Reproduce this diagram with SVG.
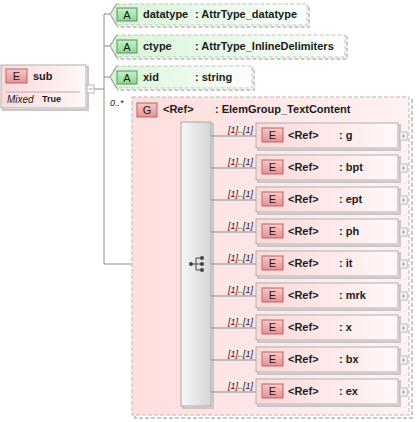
<svg xmlns="http://www.w3.org/2000/svg" width="419" height="422" viewBox="0 0 419 422">
<defs>
<linearGradient id="gPink" x1="0" y1="0" x2="1" y2="0"><stop offset="0" stop-color="#fdd9d9"/><stop offset="1" stop-color="#fff8f8"/></linearGradient>
<linearGradient id="gGroup" x1="0" y1="0" x2="1" y2="0"><stop offset="0" stop-color="#ffdede"/><stop offset="1" stop-color="#fff2f2"/></linearGradient>
<linearGradient id="gGreen" x1="0" y1="0" x2="1" y2="0"><stop offset="0" stop-color="#d8f5d8"/><stop offset="1" stop-color="#fbfffb"/></linearGradient>
<linearGradient id="gBadgeE" x1="0" y1="0" x2="0" y2="1"><stop offset="0" stop-color="#fbc8c8"/><stop offset="1" stop-color="#ec8f8f"/></linearGradient>
<linearGradient id="gBadgeA" x1="0" y1="0" x2="0" y2="1"><stop offset="0" stop-color="#c8f2c8"/><stop offset="1" stop-color="#8ed68e"/></linearGradient>
<linearGradient id="gSeq" x1="0" y1="0" x2="1" y2="0"><stop offset="0" stop-color="#f6f6f6"/><stop offset="1" stop-color="#d6d6d6"/></linearGradient>
<style>
text{font-family:"Liberation Sans",Arial,sans-serif;fill:#1a1a1a}
.t{font-size:11px;font-weight:bold}
.card{font-size:9px;font-style:italic}
.badge{font-size:11px;text-anchor:middle}
.eb{fill:url(#gBadgeE);stroke:#a86a6a;stroke-width:1}
.ab{fill:url(#gBadgeA);stroke:#5f8f5f;stroke-width:1}
.ebox{fill:url(#gPink);stroke:#b0b0b0;stroke-width:1}
.shadow{fill:none;stroke:#c8c8c8;stroke-width:2}
.dash{stroke-dasharray:4,2}
.ln{stroke:#8c8c8c;stroke-width:1;fill:none}
.plus{fill:#fff;stroke:#b8b8b8;stroke-width:1}
.pl{stroke:#a0a0a0;stroke-width:1}
</style>
</defs>

<g id="connectors">
<line class="ln" x1="94" y1="89" x2="104" y2="89"/>
<line class="ln" x1="104" y1="14" x2="104" y2="264"/>
<line class="ln" x1="104" y1="14" x2="110" y2="14"/>
<line class="ln" x1="104" y1="46" x2="110" y2="46"/>
<line class="ln" x1="104" y1="77" x2="110" y2="77"/>
<line class="ln" x1="104" y1="264" x2="181" y2="264"/>
<text class="card" x="176" y="261" text-anchor="end">[1]..[1]</text>
<text class="card" x="110" y="106">0..*</text>
</g>

<g id="sub">
<rect x="3" y="67" width="85" height="43" class="shadow"/>
<rect x="1" y="65" width="85" height="43" fill="url(#gPink)" stroke="#b0b0b0"/>
<rect x="6" y="69" width="21" height="14" class="eb"/>
<text class="badge" x="16.5" y="80">E</text>
<text class="t" x="33" y="80">sub</text>
<line x1="6" y1="92" x2="80" y2="92" stroke="#b0b0b0"/>
<text x="7" y="103" font-size="10" font-style="italic">Mixed</text>
<text x="42" y="102" font-size="9" font-weight="bold">True</text>
<rect x="87" y="85" width="7" height="8" class="plus"/>
<line x1="88.5" y1="89" x2="92.5" y2="89" class="pl"/>
</g>

<g id="attr_datatype">
<polygon points="112,16 118,6 309,6 309,27 118,27" class="shadow dash"/>
<polygon points="110,14 116,4 307,4 307,25 116,25" fill="url(#gGreen)" stroke="#c0c0c0" class="dash"/>
<polyline points="117,4 110,14 117,25" fill="none" stroke="#7fa57f"/>
<rect x="117" y="8" width="20" height="13" class="ab"/>
<text class="badge" x="127" y="19">A</text>
<text class="t" x="143" y="18">datatype</text>
<text class="t" x="195" y="18">: AttrType_datatype</text>
</g>

<g id="attr_ctype">
<polygon points="112,48 118,37 347,37 347,59 118,59" class="shadow dash"/>
<polygon points="110,46 116,35 345,35 345,57 116,57" fill="url(#gGreen)" stroke="#c0c0c0" class="dash"/>
<polyline points="117,35 110,46 117,57" fill="none" stroke="#7fa57f"/>
<rect x="117" y="40" width="20" height="13" class="ab"/>
<text class="badge" x="127" y="51">A</text>
<text class="t" x="143" y="50">ctype</text>
<text class="t" x="195" y="50">: AttrType_InlineDelimiters</text>
</g>

<g id="attr_xid">
<polygon points="112,79 118,68 254,68 254,90 118,90" class="shadow dash"/>
<polygon points="110,77 116,66 252,66 252,88 116,88" fill="url(#gGreen)" stroke="#c0c0c0" class="dash"/>
<polyline points="117,66 110,77 117,88" fill="none" stroke="#7fa57f"/>
<rect x="117" y="71" width="20" height="13" class="ab"/>
<text class="badge" x="127" y="82">A</text>
<text class="t" x="143" y="81">xid</text>
<text class="t" x="195" y="81">: string</text>
</g>

<g id="group_TextContent">
<rect x="135" y="100" width="277" height="318" class="shadow dash"/>
<rect x="132" y="97" width="277" height="318" fill="url(#gGroup)" stroke="#b8b8b8" class="dash"/>
<rect x="137" y="103" width="20" height="14" class="eb"/>
<text class="badge" x="147" y="114">G</text>
<text class="t" x="163" y="113">&lt;Ref&gt;</text>
<text class="t" x="215" y="113">: ElemGroup_TextContent</text>
</g>

<g id="sequence">
<rect x="183" y="124" width="30" height="284" class="shadow"/>
<rect x="181" y="122" width="30" height="284" fill="url(#gSeq)" stroke="#a8a8a8"/>
<g fill="#444" stroke="#444" stroke-width="1">
<line x1="191" y1="264" x2="196" y2="264"/>
<line x1="196" y1="258" x2="196" y2="270"/>
<line x1="196" y1="258" x2="202" y2="258"/>
<line x1="196" y1="270" x2="202" y2="270"/>
<line x1="196" y1="264" x2="202" y2="264"/>
<circle cx="191" cy="264" r="2" stroke="none"/>
<circle cx="202" cy="258" r="2" stroke="none"/>
<circle cx="202" cy="264" r="2" stroke="none"/>
<circle cx="202" cy="270" r="2" stroke="none"/>
</g>
</g>

<g id="seq_connectors">
<line class="ln" x1="211" y1="136" x2="256" y2="136"/>
<line class="ln" x1="211" y1="168" x2="256" y2="168"/>
<line class="ln" x1="211" y1="200" x2="256" y2="200"/>
<line class="ln" x1="211" y1="232" x2="256" y2="232"/>
<line class="ln" x1="211" y1="264" x2="256" y2="264"/>
<line class="ln" x1="211" y1="296" x2="256" y2="296"/>
<line class="ln" x1="211" y1="328" x2="256" y2="328"/>
<line class="ln" x1="211" y1="360" x2="256" y2="360"/>
<line class="ln" x1="211" y1="392" x2="256" y2="392"/>
<text class="card" x="253" y="133" text-anchor="end">[1]..[1]</text>
<text class="card" x="253" y="165" text-anchor="end">[1]..[1]</text>
<text class="card" x="253" y="197" text-anchor="end">[1]..[1]</text>
<text class="card" x="253" y="229" text-anchor="end">[1]..[1]</text>
<text class="card" x="253" y="261" text-anchor="end">[1]..[1]</text>
<text class="card" x="253" y="293" text-anchor="end">[1]..[1]</text>
<text class="card" x="253" y="325" text-anchor="end">[1]..[1]</text>
<text class="card" x="253" y="357" text-anchor="end">[1]..[1]</text>
<text class="card" x="253" y="389" text-anchor="end">[1]..[1]</text>
</g>

<g id="el_g" transform="translate(0,123)">
<rect x="258" y="2" width="142" height="25" class="shadow"/>
<rect x="256" y="0" width="142" height="25" class="ebox"/>
<rect x="262" y="5" width="21" height="14" class="eb"/><text class="badge" x="272.5" y="16">E</text>
<text class="t" x="288" y="16">&lt;Ref&gt;</text><text class="t" x="339" y="16">: g</text>
<rect x="400" y="9" width="7" height="8" class="plus"/><line x1="401.5" y1="13" x2="405.5" y2="13" class="pl"/><line x1="403.5" y1="10.5" x2="403.5" y2="15.5" class="pl"/>
</g>
<g id="el_bpt" transform="translate(0,155)">
<rect x="258" y="2" width="142" height="25" class="shadow"/>
<rect x="256" y="0" width="142" height="25" class="ebox"/>
<rect x="262" y="5" width="21" height="14" class="eb"/><text class="badge" x="272.5" y="16">E</text>
<text class="t" x="288" y="16">&lt;Ref&gt;</text><text class="t" x="339" y="16">: bpt</text>
<rect x="400" y="9" width="7" height="8" class="plus"/><line x1="401.5" y1="13" x2="405.5" y2="13" class="pl"/><line x1="403.5" y1="10.5" x2="403.5" y2="15.5" class="pl"/>
</g>
<g id="el_ept" transform="translate(0,187)">
<rect x="258" y="2" width="142" height="25" class="shadow"/>
<rect x="256" y="0" width="142" height="25" class="ebox"/>
<rect x="262" y="5" width="21" height="14" class="eb"/><text class="badge" x="272.5" y="16">E</text>
<text class="t" x="288" y="16">&lt;Ref&gt;</text><text class="t" x="339" y="16">: ept</text>
<rect x="400" y="9" width="7" height="8" class="plus"/><line x1="401.5" y1="13" x2="405.5" y2="13" class="pl"/><line x1="403.5" y1="10.5" x2="403.5" y2="15.5" class="pl"/>
</g>
<g id="el_ph" transform="translate(0,219)">
<rect x="258" y="2" width="142" height="25" class="shadow"/>
<rect x="256" y="0" width="142" height="25" class="ebox"/>
<rect x="262" y="5" width="21" height="14" class="eb"/><text class="badge" x="272.5" y="16">E</text>
<text class="t" x="288" y="16">&lt;Ref&gt;</text><text class="t" x="339" y="16">: ph</text>
<rect x="400" y="9" width="7" height="8" class="plus"/><line x1="401.5" y1="13" x2="405.5" y2="13" class="pl"/><line x1="403.5" y1="10.5" x2="403.5" y2="15.5" class="pl"/>
</g>
<g id="el_it" transform="translate(0,251)">
<rect x="258" y="2" width="142" height="25" class="shadow"/>
<rect x="256" y="0" width="142" height="25" class="ebox"/>
<rect x="262" y="5" width="21" height="14" class="eb"/><text class="badge" x="272.5" y="16">E</text>
<text class="t" x="288" y="16">&lt;Ref&gt;</text><text class="t" x="339" y="16">: it</text>
<rect x="400" y="9" width="7" height="8" class="plus"/><line x1="401.5" y1="13" x2="405.5" y2="13" class="pl"/><line x1="403.5" y1="10.5" x2="403.5" y2="15.5" class="pl"/>
</g>
<g id="el_mrk" transform="translate(0,283)">
<rect x="258" y="2" width="142" height="25" class="shadow"/>
<rect x="256" y="0" width="142" height="25" class="ebox"/>
<rect x="262" y="5" width="21" height="14" class="eb"/><text class="badge" x="272.5" y="16">E</text>
<text class="t" x="288" y="16">&lt;Ref&gt;</text><text class="t" x="339" y="16">: mrk</text>
<rect x="400" y="9" width="7" height="8" class="plus"/><line x1="401.5" y1="13" x2="405.5" y2="13" class="pl"/><line x1="403.5" y1="10.5" x2="403.5" y2="15.5" class="pl"/>
</g>
<g id="el_x" transform="translate(0,315)">
<rect x="258" y="2" width="142" height="25" class="shadow"/>
<rect x="256" y="0" width="142" height="25" class="ebox"/>
<rect x="262" y="5" width="21" height="14" class="eb"/><text class="badge" x="272.5" y="16">E</text>
<text class="t" x="288" y="16">&lt;Ref&gt;</text><text class="t" x="339" y="16">: x</text>
<rect x="400" y="9" width="7" height="8" class="plus"/><line x1="401.5" y1="13" x2="405.5" y2="13" class="pl"/><line x1="403.5" y1="10.5" x2="403.5" y2="15.5" class="pl"/>
</g>
<g id="el_bx" transform="translate(0,347)">
<rect x="258" y="2" width="142" height="25" class="shadow"/>
<rect x="256" y="0" width="142" height="25" class="ebox"/>
<rect x="262" y="5" width="21" height="14" class="eb"/><text class="badge" x="272.5" y="16">E</text>
<text class="t" x="288" y="16">&lt;Ref&gt;</text><text class="t" x="339" y="16">: bx</text>
<rect x="400" y="9" width="7" height="8" class="plus"/><line x1="401.5" y1="13" x2="405.5" y2="13" class="pl"/><line x1="403.5" y1="10.5" x2="403.5" y2="15.5" class="pl"/>
</g>
<g id="el_ex" transform="translate(0,379)">
<rect x="258" y="2" width="142" height="25" class="shadow"/>
<rect x="256" y="0" width="142" height="25" class="ebox"/>
<rect x="262" y="5" width="21" height="14" class="eb"/><text class="badge" x="272.5" y="16">E</text>
<text class="t" x="288" y="16">&lt;Ref&gt;</text><text class="t" x="339" y="16">: ex</text>
<rect x="400" y="9" width="7" height="8" class="plus"/><line x1="401.5" y1="13" x2="405.5" y2="13" class="pl"/><line x1="403.5" y1="10.5" x2="403.5" y2="15.5" class="pl"/>
</g>
</svg>
